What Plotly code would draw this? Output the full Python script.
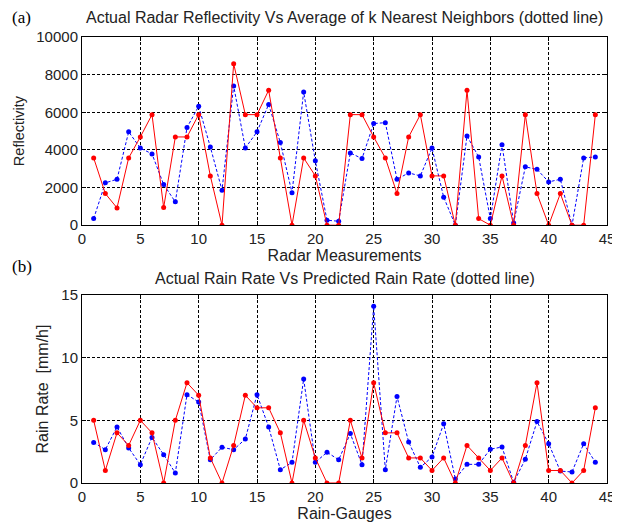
import plotly.graph_objects as go
from plotly.subplots import make_subplots

x = list(range(1, 45))

refl_actual = [3575, 1680, 920, 3575, 4690, 5875, 940, 4690, 4690, 5875,
               2620, 0, 8580, 5875, 5875, 7170, 3575, 0, 3575, 2620,
               0, 0, 5875, 5875, 4690, 3575, 1680, 4690, 5875, 2620,
               2620, 0, 7170, 350, 0, 2620, 0, 5875, 1680, 0,
               1680, 0, 0, 5875]
refl_knn = [350, 2250, 2440, 4960, 4100, 3790, 2160, 1240, 5190, 6320,
            4160, 1860, 7400, 4100, 4960, 6420, 4390, 1730, 7080, 3420,
            265, 210, 3840, 3540, 5400, 5450, 2440, 2780, 2620, 4100,
            1490, 0, 4740, 3630, 350, 4280, 120, 3100, 2970, 2300,
            2440, 0, 3575, 3630]

rain_actual = [5, 1, 4, 3, 5, 4, 0, 5, 8, 7,
               2, 0, 3, 7, 6, 6, 4, 0, 5, 2,
               0, 0, 5, 2, 8, 4, 4, 2, 2, 1,
               2, 0, 3, 2, 1, 2, 0, 3, 8, 1,
               1, 0, 1, 6]
rain_pred = [3.24, 2.66, 4.47, 2.8, 1.46, 3.64, 2.26, 0.8, 7.05, 6.46,
             1.86, 2.85, 2.66, 3.51, 7.05, 4.47, 1.06, 1.65, 8.3, 1.65,
             2.45, 1.86, 3.94, 1.46, 14.1, 1.06, 6.9, 3.27, 1.25, 2.07,
             4.73, 0.32, 1.49, 1.49, 2.7, 2.87, 0.05, 1.9, 4.9, 3.14,
             0.95, 0.88, 3.14, 1.65]

x_ticks = [0, 5, 10, 15, 20, 25, 30, 35, 40, 45]
refl_ticks = [0, 2000, 4000, 6000, 8000, 10000]
rain_ticks = [0, 5, 10, 15]

fig = make_subplots(rows=2, cols=1, vertical_spacing=0.1565)

red = "#ff0000"
blue = "#0000ff"

fig.add_trace(go.Scatter(x=x, y=refl_knn, mode="lines+markers",
                         line=dict(color=blue, width=1, dash="3px,2px"),
                         marker=dict(color=blue, size=5), showlegend=False), row=1, col=1)
fig.add_trace(go.Scatter(x=x, y=refl_actual, mode="lines+markers",
                         line=dict(color=red, width=1),
                         marker=dict(color=red, size=5), showlegend=False), row=1, col=1)
fig.add_trace(go.Scatter(x=x, y=rain_pred, mode="lines+markers",
                         line=dict(color=blue, width=1, dash="3px,2px"),
                         marker=dict(color=blue, size=5), showlegend=False), row=2, col=1)
fig.add_trace(go.Scatter(x=x, y=rain_actual, mode="lines+markers",
                         line=dict(color=red, width=1),
                         marker=dict(color=red, size=5), showlegend=False), row=2, col=1)

txt = "#222222"
axis_common = dict(showline=True, linecolor="black", linewidth=1, mirror="ticks",
                   ticks="inside", ticklen=4, tickcolor="black", automargin=False,
                   showgrid=True, gridcolor="black", gridwidth=1, griddash="3px,2px",
                   zeroline=False, ticklabeloverflow="allow",
                   tickfont=dict(family="Liberation Sans", size=15, color=txt))

fig.update_xaxes(range=[0, 45], tickvals=x_ticks, **axis_common)
fig.update_yaxes(**axis_common)
fig.update_yaxes(range=[0, 10000], tickvals=refl_ticks, ticktext=[str(v) for v in refl_ticks],
                 row=1, col=1,
                 title=dict(text="Reflectivity", font=dict(family="Liberation Sans", size=14.5, color=txt), standoff=8))
fig.update_yaxes(range=[0, 15], tickvals=rain_ticks, ticktext=[str(v) for v in rain_ticks],
                 row=2, col=1,
                 title=dict(text="Rain Rate  [mm/h]", font=dict(family="Liberation Sans", size=16, color=txt), standoff=8))
fig.update_xaxes(row=1, col=1,
                 title=dict(text="Radar Measurements", font=dict(family="Liberation Sans", size=16, color=txt), standoff=2))
fig.update_xaxes(row=2, col=1,
                 title=dict(text="Rain-Gauges", font=dict(family="Liberation Sans", size=16, color=txt), standoff=2))

title_font = dict(family="Liberation Sans", size=16, color=txt)
fig.add_annotation(text="Actual Radar Reflectivity Vs Average of k Nearest Neighbors (dotted line)",
                   xref="paper", yref="paper", x=0.5, y=1.0, yshift=20, xanchor="center", yanchor="middle",
                   showarrow=False, font=title_font)
fig.add_annotation(text="Actual Rain Rate Vs Predicted Rain Rate (dotted line)",
                   xref="paper", yref="paper", x=0.5, y=0.4215, yshift=17, xanchor="center", yanchor="middle",
                   showarrow=False, font=title_font)
fig.add_annotation(text="(a)", xref="paper", yref="paper", x=0, xshift=-72, y=1.0, yshift=20,
                   xanchor="left", yanchor="middle", showarrow=False,
                   font=dict(family="Liberation Serif", size=17, color="black"))
fig.add_annotation(text="(b)", xref="paper", yref="paper", x=0, xshift=-72, y=0.4215, yshift=29,
                   xanchor="left", yanchor="middle", showarrow=False,
                   font=dict(family="Liberation Serif", size=17, color="black"))

# page body adds an 8px offset, so the figure is drawn 8px smaller
fig.update_layout(width=612, height=520,
                  margin=dict(l=74, r=13, t=29, b=45, autoexpand=False),
                  paper_bgcolor="white", plot_bgcolor="white")
fig.update_yaxes(domain=[0.578, 1.0], row=1, col=1)
fig.update_yaxes(domain=[0.0, 0.4215], row=2, col=1)

fig.write_html("out.html")
